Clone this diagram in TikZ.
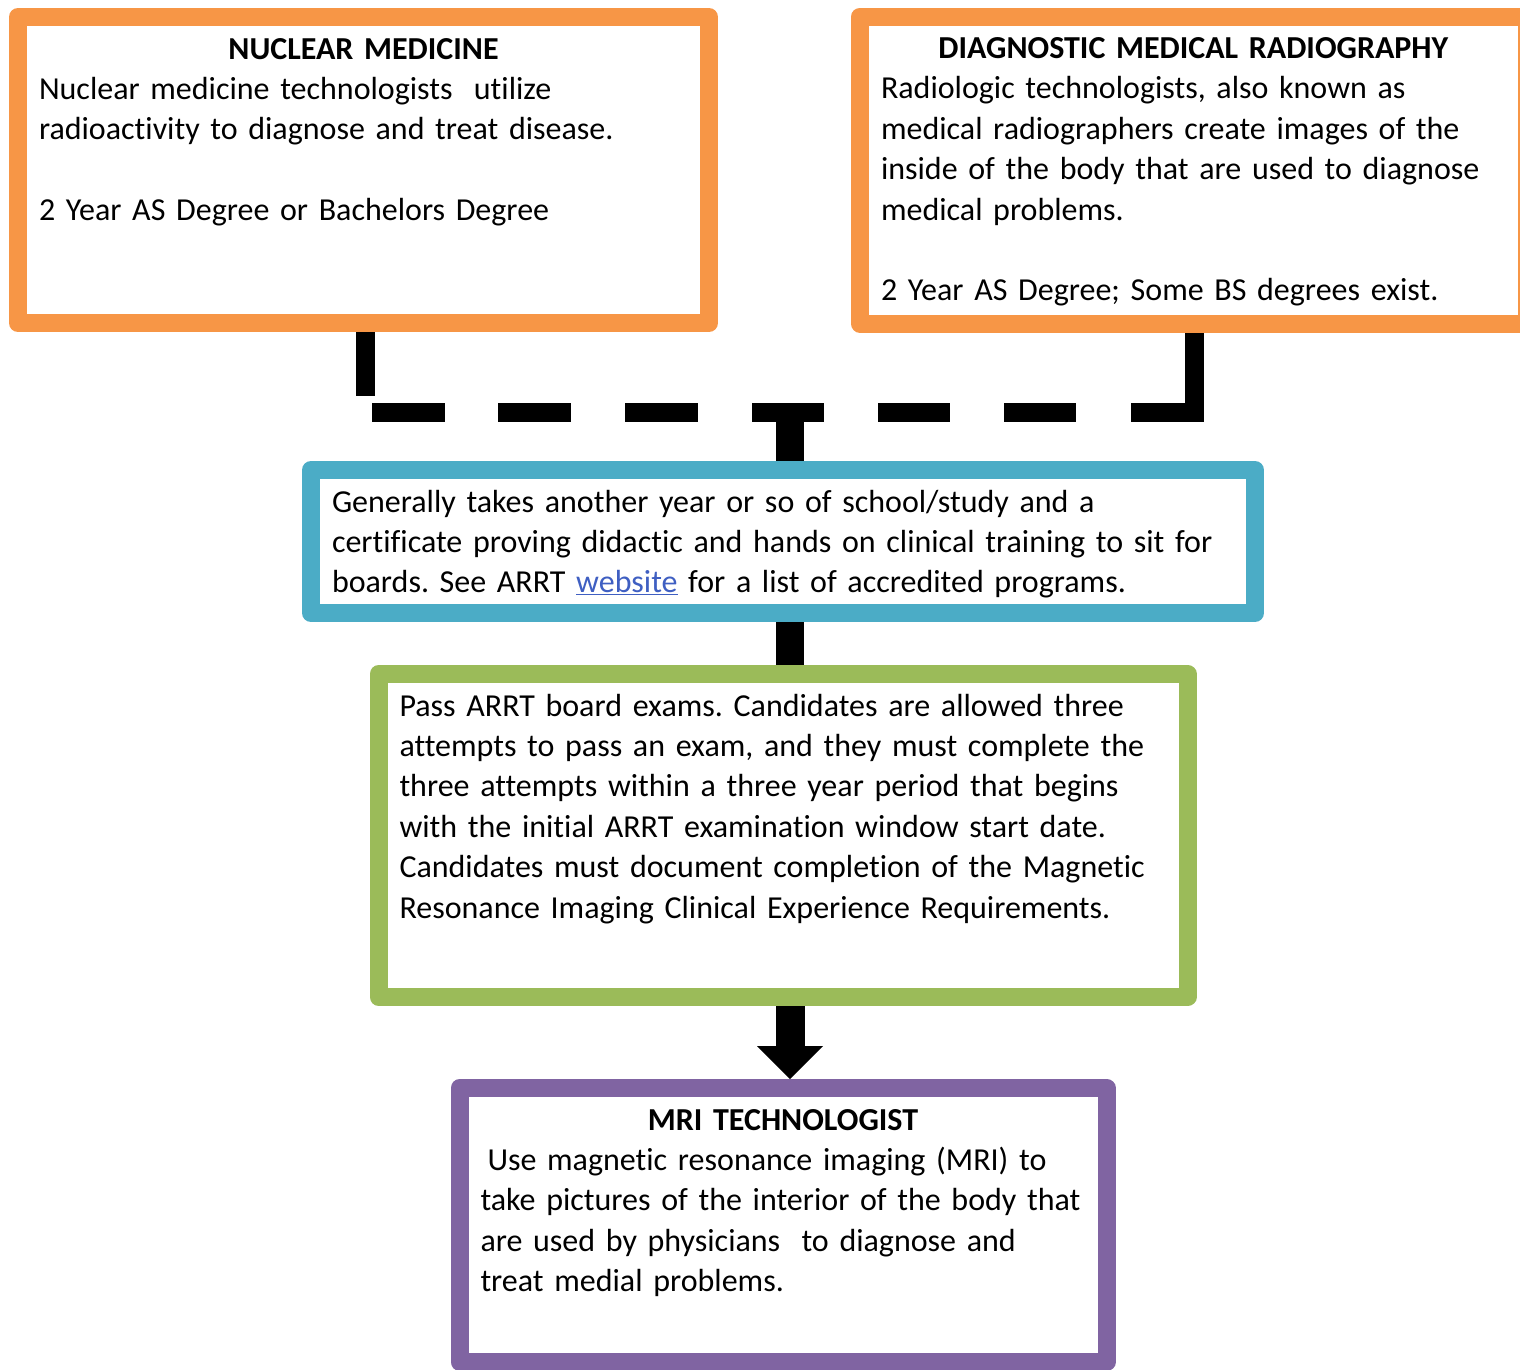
\documentclass[tikz,border=0pt]{standalone}
\usepackage{fontspec}
\setmainfont{Carlito}[Ligatures={NoCommon}]
\usepackage{tikz}
\usetikzlibrary{arrows.meta,positioning}
\definecolor{Ink}{HTML}{000000}
\definecolor{Orange}{HTML}{F79646}
\definecolor{Teal}{HTML}{4BACC6}
\definecolor{Olive}{HTML}{9BBB59}
\definecolor{Violet}{HTML}{8064A2}
\definecolor{Link}{HTML}{3F5FC2}
\newcommand{\cardfont}{\fontsize{32pt}{40.4pt}\selectfont\frenchspacing}
\newcommand{\cardtitle}[1]{\makebox[\linewidth]{\textbf{#1}}}
\tikzset{
  cardbox/.style={draw=#1,fill=white,line width=18pt,line join=round,align=left,font=\cardfont,text=Ink,inner xsep=21pt,inner ysep=0pt,text height=42pt},
  tieline/.style={draw=Ink,line width=19pt,dash pattern=on 64pt off 23pt on 73pt off 53pt on 73pt off 54pt on 73pt off 54pt on 72pt off 54pt on 72pt off 54pt on 72pt off 55pt on 200pt},
  stemline/.style={draw=Ink,line width=28pt},
  flowline/.style={-{Triangle[length=33pt,width=66pt,line width=0pt]},draw=Ink,line width=29pt}
}

\begin{document}
\begin{tikzpicture}[x=1pt,y=-1pt]
  \useasboundingbox (0,0) rectangle (1520,1369);
  \clip (0,0) rectangle (1520,1369);
  \fill[white] (0,0) rectangle (1520,1369);
  \node[cardbox=Orange,text width=649pt,text depth=264pt] (nm) at (363.5,170) {
    \cardtitle{NUCLEAR MEDICINE}\\
    Nuclear medicine technologists\ \ utilize\\
    radioactivity to diagnose and treat disease.\\[40.4pt]
    2 Year AS Degree or Bachelors Degree
  };
  \node[cardbox=Orange,text width=625pt,text depth=265pt,right=133pt of nm] (dmr) {
    \cardtitle{DIAGNOSTIC MEDICAL RADIOGRAPHY}\\
    Radiologic technologists, also known as\\
    medical radiographers create images of the\\
    inside of the body that are used to diagnose\\
    medical problems.\\[40.4pt]
    2 Year AS Degree; Some BS degrees exist.
  };
  \node[cardbox=Teal,text width=902pt,text depth=101pt] (school) at (783,541.5) {
    Generally takes another year or so of school/study and a\\
    certificate proving didactic and hands on clinical training to sit for\\
    boards. See ARRT \textcolor{Link}{\underline{website}} for a list of accredited programs.
  };
  \node[cardbox=Olive,text width=767pt,text depth=281pt,below=43pt of school] (boards) {
    Pass ARRT board exams. Candidates are allowed three\\
    attempts to pass an exam, and they must complete the\\
    three attempts within a three year period that begins\\
    with the initial ARRT examination window start date.\\
    Candidates must document completion of the Magnetic\\
    Resonance Imaging Clinical Experience Requirements.
  };
  \node[cardbox=Violet,text width=605pt,text depth=232pt,below=73pt of boards] (mri) {
    \cardtitle{MRI TECHNOLOGIST}\\
    \hspace*{7pt}Use magnetic resonance imaging (MRI) to\\
    take pictures of the interior of the body that\\
    are used by physicians\ \ to diagnose and\\
    treat medial problems.
  };
  \coordinate (nmfoot) at (365,412);
  \coordinate (dmrfoot) at (1194,412);
  \coordinate (spine) at (790,412);
  \draw[tieline] (nm.south -| nmfoot) -- (nmfoot) -- (dmrfoot) -- (dmr.south -| dmrfoot);
  \draw[stemline] (spine) -- (school.north -| spine);
  \draw[stemline] (school.south -| spine) -- (boards.north -| spine);
  \draw[flowline] (boards.south -| spine) -- (mri.north -| spine);
\end{tikzpicture}
\end{document}
